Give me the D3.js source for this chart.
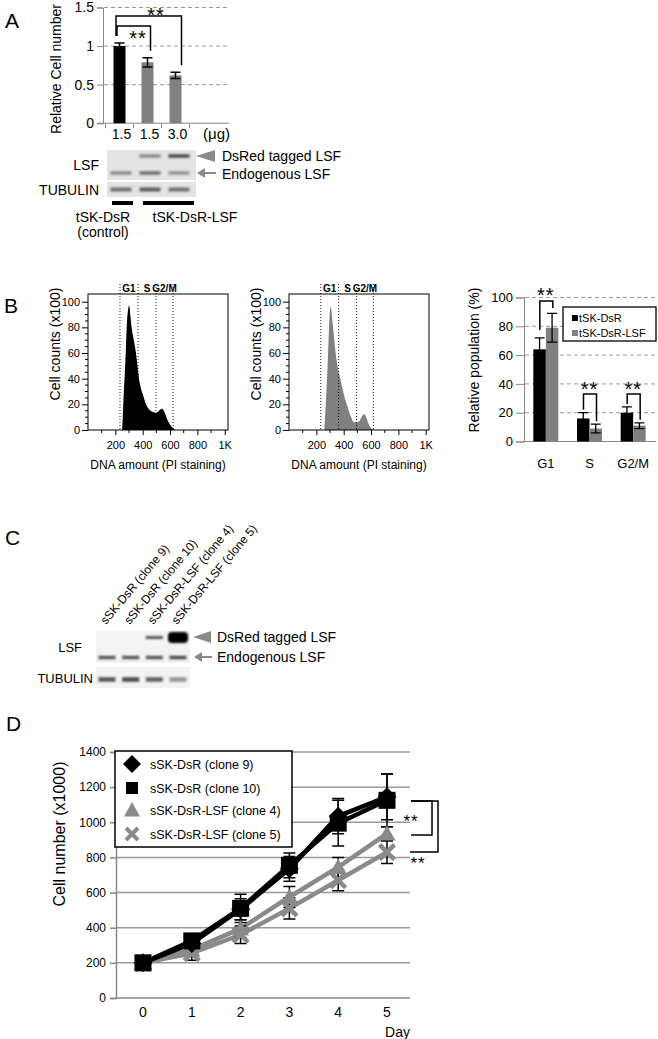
<!DOCTYPE html>
<html><head><meta charset="utf-8">
<script src="https://cdn.jsdelivr.net/npm/d3@7"></script>
<style>body{margin:0;background:#fff}svg{display:block}text{font-family:"Liberation Sans",Arial,Helvetica,sans-serif}</style>
</head><body><svg id="c" width="658" height="1039"></svg>
<script>
// ---------- DATA ----------
// Panel A
const aDoses = ["1.5", "1.5", "3.0"];
const aValues = [1.0, 0.79, 0.62];
const aErrors = [0.04, 0.06, 0.04];
const aTicks = [0, 0.5, 1, 1.5];
const aBlotDsRed = [0, 0.45, 0.8];
const aBlotEndo = [0.45, 0.6, 0.4];
const aBlotTub = [0.6, 0.7, 0.6];
// Panel B histograms: [DNA amount, cell counts x100]
const hist1 = [[250,0],[258,20],[276,60],[283,80],[292,93],[302,97],[310,89],[319,80],[335,70],[351,60],[362,50],[373,40],[386,33],[400,28],[412,24],[424,20],[440,17],[458,15],[475,14],[495,13.5],[510,14],[525,15.5],[541,16.5],[555,15],[570,11],[585,7],[600,4],[620,1.5],[640,0]];
const hist2 = [[258,0],[269,20],[286,60],[293,80],[305,96],[322,80],[341,60],[358,48],[375,40],[392,32],[408,25],[423,20],[440,14],[458,9],[475,6],[495,6],[515,7],[530,10],[545,12],[555,12],[568,9],[585,4],[600,1.5],[620,0]];
const gates1 = [234, 366, 497, 622];
const gates2 = [232, 363, 494, 617];
const histYTicks = [0, 20, 40, 60, 80, 100];
const histXTicks = [200, 400, 600, 800, 1000];
const histXLabels = ["200", "400", "600", "800", "1K"];
// Panel B bar chart
const phases = ["G1", "S", "G2/M"];
const dsrPop = [64, 16, 20];
const dsrPopErr = [8, 4, 4];
const lsfPop = [79, 9, 11];
const lsfPopErr = [10, 3, 2];
const popTicks = [0, 20, 40, 60, 80, 100];
// Panel C blot
const cLanes = ["sSK-DsR (clone 9)", "sSK-DsR (clone 10)", "sSK-DsR-LSF (clone 4)", "sSK-DsR-LSF (clone 5)"];
const cBlotDsRed = [0, 0, 0.75, 1.0];
const cBlotEndo = [0.75, 0.75, 0.75, 0.8];
const cBlotTub = [0.75, 0.8, 0.7, 0.45];
// Panel D
const days = [0, 1, 2, 3, 4, 5];
const clone9 = [200, 310, 505, 735, 1035, 1145];
const clone9Err = [10, 20, 60, 70, 100, 130];
const clone10 = [200, 325, 510, 755, 995, 1125];
const clone10Err = [10, 25, 80, 70, 130, 150];
const clone4 = [200, 275, 395, 575, 745, 935];
const clone4Err = [10, 30, 50, 60, 55, 40];
const clone5 = [200, 255, 360, 510, 670, 830];
const clone5Err = [10, 40, 50, 60, 60, 65];
const dTicks = [0, 200, 400, 600, 800, 1000, 1200, 1400];

// ---------- DRAW ----------
const svg = d3.select("#c");
const GRAY = "#8a8a8a";
const defs = svg.append("defs");
defs.append("filter").attr("id","blur").attr("x","-30%").attr("y","-100%").attr("width","160%").attr("height","300%")
  .append("feGaussianBlur").attr("stdDeviation","1.1");

function txt(g, s, x, y, size, anchor, extra) {
  const t = g.append("text").attr("x", x).attr("y", y).attr("font-size", size)
    .attr("text-anchor", anchor || "start").text(s);
  if (extra) extra(t);
  return t;
}
function stars(g, x, y, size) {
  return txt(g, "**", x, y, size, "middle", t => t.attr("letter-spacing", 1));
}
function styleAxis(g, lineColor) {
  g.select(".domain").attr("stroke", lineColor);
  g.selectAll(".tick line").attr("stroke", lineColor);
  g.selectAll(".tick text").attr("fill", "#000").attr("font-family", '"Liberation Sans",Arial,sans-serif');
}

// ===== Panel A =====
txt(svg, "A", 5, 28, 21);
const gA = svg.append("g");
const xA = d3.scalePoint().domain(d3.range(aValues.length)).range([119.5, 175.5]);
const yA = d3.scaleLinear().domain([0, 1.5]).range([123.2, 7.5]);
gA.selectAll(".gridA").data(aTicks.filter(d => d > 0)).join("line")
  .attr("x1", 104).attr("x2", 229).attr("y1", d => yA(d)).attr("y2", d => yA(d))
  .attr("stroke", "#999").attr("stroke-dasharray", "4,3");
const axA = gA.append("g").attr("transform", "translate(103,0)")
  .call(d3.axisLeft(yA).tickValues(aTicks).tickFormat(d3.format("")).tickSize(6).tickPadding(3));
axA.attr("font-size", 14); styleAxis(axA, "#888");
gA.append("line").attr("x1", 97).attr("x2", 229).attr("y1", yA(0)).attr("y2", yA(0)).attr("stroke", "#888");
gA.selectAll(".tA").data([105.5, 133.5, 161.5, 189.5]).join("line")
  .attr("x1", d => d).attr("x2", d => d).attr("y1", yA(0)).attr("y2", yA(0) + 5).attr("stroke", "#888");
gA.selectAll(".barA").data(aValues).join("rect")
  .attr("x", (d, i) => xA(i) - 6).attr("width", 12)
  .attr("y", d => yA(d)).attr("height", d => yA(0) - yA(d))
  .attr("fill", (d, i) => i === 0 ? "#000" : "#808080");
aValues.forEach((v, i) => {
  const x = xA(i), e = aErrors[i];
  gA.append("path").attr("d", `M${x},${yA(v + e)}V${yA(v - e)}M${x - 5},${yA(v + e)}H${x + 5}M${x - 5},${yA(v - e)}H${x + 5}`)
    .attr("stroke", "#000").attr("stroke-width", 1.5).attr("fill", "none");
});
aDoses.forEach((d, i) => txt(gA, d, xA(i) + 2, 139, 14, "middle"));
txt(gA, "(μg)", 203, 139, 15);
txt(gA, "Relative Cell number", 0, 0, 14, "middle", t => t.attr("transform", "translate(61,69) rotate(-90)"));
// significance A
gA.append("path").attr("d", `M117,36V26H${xA(1) + 3}V${yA(aValues[1] + aErrors[1]) - 7}`)
  .attr("stroke", "#000").attr("stroke-width", 1.5).attr("fill", "none");
gA.append("path").attr("d", `M116,36V16H${xA(2) + 6}V${yA(aValues[2] + aErrors[2]) - 7}`)
  .attr("stroke", "#000").attr("stroke-width", 1.5).attr("fill", "none");
stars(gA, 138, 45, 20);
stars(gA, 156, 22, 20);
// blot A
const blotA = svg.append("g");
const laneA = d3.scalePoint().domain(d3.range(3)).range([121, 179]);
blotA.append("rect").attr("x", 107).attr("y", 150).attr("width", 89).attr("height", 30).attr("fill", "#e4e4e4");
blotA.append("rect").attr("x", 107).attr("y", 182).attr("width", 89).attr("height", 15).attr("fill", "#e4e4e4");
function bands(g, lanes, vals, y, w, h) {
  g.selectAll(null).data(vals).join("rect")
    .attr("x", (d, i) => lanes(i) - w / 2).attr("y", y - h / 2).attr("width", w).attr("height", h)
    .attr("fill", "#222").attr("opacity", d => d).attr("filter", "url(#blur)");
}
bands(blotA, laneA, aBlotDsRed, 156, 21, 3.5);
bands(blotA, laneA, aBlotEndo, 173, 21, 3.5);
bands(blotA, laneA, aBlotTub, 189.5, 21, 4);
txt(blotA, "LSF", 99, 170, 14, "end");
txt(blotA, "TUBULIN", 99, 195, 14, "end");
blotA.append("path").attr("d", "M196,156L215,150L215,162Z").attr("fill", GRAY);
blotA.append("path").attr("d", "M197,173L205,168L205,178Z").attr("fill", GRAY);
blotA.append("line").attr("x1", 204).attr("x2", 216).attr("y1", 173).attr("y2", 173).attr("stroke", GRAY).attr("stroke-width", 2);
txt(blotA, "DsRed tagged LSF", 222, 161, 14);
txt(blotA, "Endogenous LSF", 222, 179, 14);
blotA.append("line").attr("x1", 112).attr("x2", 133).attr("y1", 203).attr("y2", 203).attr("stroke", "#000").attr("stroke-width", 4);
blotA.append("line").attr("x1", 143).attr("x2", 194).attr("y1", 203).attr("y2", 203).attr("stroke", "#000").attr("stroke-width", 4);
txt(blotA, "tSK-DsR", 103, 222, 14, "middle");
txt(blotA, "(control)", 103, 237, 14, "middle");
txt(blotA, "tSK-DsR-LSF", 195, 222, 14, "middle");

// ===== Panel B histograms =====
txt(svg, "B", 4, 313, 21);
const yH = d3.scaleLinear().domain([0, 106]).range([430, 294]);
function histogram(x0, data, gates, fill) {
  const g = svg.append("g");
  const xH = d3.scaleLinear().domain([0, 1024]).range([x0, x0 + 140]);
  g.append("path").datum(data)
    .attr("d", d3.area().x(d => xH(d[0])).y0(yH(0)).y1(d => yH(d[1])).curve(d3.curveMonotoneX))
    .attr("fill", fill);
  g.append("rect").attr("x", xH(0)).attr("y", yH(106)).attr("width", 140).attr("height", yH(0) - yH(106))
    .attr("fill", "none").attr("stroke", "#000").attr("stroke-width", 1);
  gates.forEach(v => g.append("line").attr("x1", xH(v)).attr("x2", xH(v)).attr("y1", 284).attr("y2", yH(0))
    .attr("stroke", "#000").attr("stroke-width", 0.9).attr("stroke-dasharray", "1,2"));
  phases.forEach((p, i) => txt(g, p, (xH(gates[i]) + xH(gates[i + 1])) / 2, 292, 10, "middle", t => t.attr("font-weight", "bold")));
  const ay = g.append("g").attr("transform", `translate(${xH(0)},0)`)
    .call(d3.axisLeft(yH).tickValues(histYTicks).tickSize(6).tickPadding(2));
  ay.attr("font-size", 11); styleAxis(ay, "#000"); ay.select(".domain").remove();
  g.selectAll(null).data(d3.range(5, 105, 5).filter(v => v % 20)).join("line")
    .attr("x1", xH(0) - 3).attr("x2", xH(0)).attr("y1", d => yH(d)).attr("y2", d => yH(d)).attr("stroke", "#000");
  const ax = g.append("g").attr("transform", `translate(0,${yH(0)})`)
    .call(d3.axisBottom(xH).tickValues(histXTicks).tickFormat((d, i) => histXLabels[i]).tickSize(5).tickPadding(6));
  ax.attr("font-size", 11); styleAxis(ax, "#000"); ax.select(".domain").remove();
  g.selectAll(null).data(d3.range(100, 1000, 200)).join("line")
    .attr("x1", d => xH(d)).attr("x2", d => xH(d)).attr("y1", yH(0)).attr("y2", yH(0) + 3).attr("stroke", "#000");
  txt(g, "DNA amount (PI staining)", x0 + 70, 469, 12, "middle");
  txt(g, "Cell counts (x100)", 0, 0, 14, "middle", t => t.attr("transform", `translate(${x0 - 28},${344}) rotate(-90)`));
}
histogram(88, hist1, gates1, "#000");
histogram(289, hist2, gates2, "#808080");

// ===== Panel B bar chart =====
const gB = svg.append("g");
const xB = d3.scaleBand().domain(phases).range([524, 655]);
const yB = d3.scaleLinear().domain([0, 100]).range([441.5, 297.5]);
gB.selectAll(null).data(popTicks.filter(d => d > 0)).join("line")
  .attr("x1", 525).attr("x2", 656).attr("y1", d => yB(d)).attr("y2", d => yB(d))
  .attr("stroke", "#999").attr("stroke-dasharray", "4,3");
const axB = gB.append("g").attr("transform", "translate(524,0)")
  .call(d3.axisLeft(yB).tickValues(popTicks).tickSize(8).tickPadding(3));
axB.attr("font-size", 13); styleAxis(axB, "#888");
gB.append("line").attr("x1", 524).attr("x2", 656).attr("y1", yB(0)).attr("y2", yB(0)).attr("stroke", "#888");
const bw = 12.5;
function popBars(vals, errs, dx, fill) {
  vals.forEach((v, i) => {
    const x = xB(phases[i]) + xB.bandwidth() / 2 + dx;
    gB.append("rect").attr("x", x).attr("width", bw).attr("y", yB(v)).attr("height", yB(0) - yB(v)).attr("fill", fill);
    const cx = x + bw / 2, e = errs[i];
    gB.append("path").attr("d", `M${cx},${yB(v + e)}V${yB(v - e)}M${cx - 5},${yB(v + e)}H${cx + 5}M${cx - 5},${yB(v - e)}H${cx + 5}`)
      .attr("stroke", "#000").attr("stroke-width", 1.3).attr("fill", "none");
  });
}
popBars(dsrPop, dsrPopErr, -bw, "#000");
popBars(lsfPop, lsfPopErr, 0, "#808080");
phases.forEach((p, i) => {
  const c = xB(p) + xB.bandwidth() / 2;
  txt(gB, p, c, 468, 13, "middle");
  const yt = i === 0 ? 301 : 394;
  const yl = i === 0 ? 330 : yB(dsrPop[i] + dsrPopErr[i]) - 3;
  const yr = i === 0 ? 308 : yB(lsfPop[i] + lsfPopErr[i]) - 3;
  gB.append("path").attr("d", `M${c - 6},${yl}V${yt}H${c + 7}V${yr}`).attr("stroke", "#000").attr("stroke-width", 1.5).attr("fill", "none");
  stars(gB, c, i === 0 ? 302 : 396, 20);
});
txt(gB, "Relative population (%)", 0, 0, 14, "middle", t => t.attr("transform", "translate(479,360) rotate(-90)"));
gB.append("rect").attr("x", 563).attr("y", 307).attr("width", 93).attr("height", 34).attr("fill", "#fff").attr("stroke", "#000").attr("stroke-width", 1.3);
[["tSK-DsR", "#000"], ["tSK-DsR-LSF", "#808080"]].forEach((d, i) => {
  gB.append("rect").attr("x", 572).attr("y", 315 + i * 15).attr("width", 6).attr("height", 6).attr("fill", d[1]);
  txt(gB, d[0], 579, 322 + i * 15, 11);
});

// ===== Panel C =====
txt(svg, "C", 5, 545, 21);
const gC = svg.append("g");
const laneC = d3.scalePoint().domain(d3.range(cLanes.length)).range([107, 178]);
gC.append("rect").attr("x", 96).attr("y", 631).attr("width", 94).attr("height", 32).attr("fill", "#f3f3f3");
gC.append("rect").attr("x", 96).attr("y", 667).attr("width", 94).attr("height", 21).attr("fill", "#f3f3f3");
bands(gC, laneC, cBlotDsRed.map((d, i) => i === 3 ? 0 : d), 637.5, 17, 3);
gC.append("rect").attr("x", laneC(3) - 10).attr("y", 632).attr("width", 20).attr("height", 11).attr("rx", 4)
  .attr("fill", "#000").attr("opacity", cBlotDsRed[3]).attr("filter", "url(#blur)");
bands(gC, laneC, cBlotEndo, 657.5, 17, 3.5);
bands(gC, laneC, cBlotTub, 679.5, 17, 4.5);
cLanes.forEach((s, i) => txt(gC, s, 0, 0, 12, "start", t => t.attr("transform", `translate(${laneC(i) - 1},625) rotate(-50)`)));
txt(gC, "LSF", 82, 652, 13, "end");
txt(gC, "TUBULIN", 93, 683, 13, "end");
gC.append("path").attr("d", "M193,637L211,631L211,643Z").attr("fill", GRAY);
gC.append("path").attr("d", "M194,657L202,652L202,662Z").attr("fill", GRAY);
gC.append("line").attr("x1", 201).attr("x2", 212).attr("y1", 657).attr("y2", 657).attr("stroke", GRAY).attr("stroke-width", 2);
txt(gC, "DsRed tagged LSF", 217, 642, 14);
txt(gC, "Endogenous LSF", 217, 662, 14);

// ===== Panel D =====
txt(svg, "D", 6, 731, 21);
const gD = svg.append("g");
const xD = d3.scalePoint().domain(days).range([143, 387]);
const yD = d3.scaleLinear().domain([0, 1400]).range([998, 752]);
gD.selectAll(null).data(dTicks.filter(d => d > 0)).join("line")
  .attr("x1", 116).attr("x2", 410).attr("y1", d => yD(d)).attr("y2", d => yD(d)).attr("stroke", "#999").attr("stroke-width", 1.5);
const axD = gD.append("g").attr("transform", "translate(116,0)")
  .call(d3.axisLeft(yD).tickValues(dTicks).tickFormat(d3.format("d")).tickSize(6).tickPadding(4));
axD.attr("font-size", 12); styleAxis(axD, "#888"); axD.selectAll(".domain,.tick line").attr("stroke-width", 1.5);
gD.append("line").attr("x1", 116).attr("x2", 410).attr("y1", yD(0)).attr("y2", yD(0)).attr("stroke", "#888").attr("stroke-width", 1.5);
days.forEach(d => txt(gD, String(d), xD(d), 1017, 14, "middle"));
txt(gD, "Day", 410, 1037, 14, "end");
txt(gD, "Cell number (x1000)", 0, 0, 16, "middle", t => t.attr("transform", "translate(65,834) rotate(-90)"));

const diamond = r => `M0,${-r}L${r},0L0,${r}L${-r},0Z`;
const square = r => `M${-r},${-r}H${r}V${r}H${-r}Z`;
const tri = r => `M0,${-r}L${r},${r * 0.8}L${-r},${r * 0.8}Z`;
const cross = r => `M${-r},${-r}L${r},${r}M${r},${-r}L${-r},${r}`;
const series = [
  { v: clone4, e: clone4Err, c: GRAY, m: tri, r: 8.5, name: "sSK-DsR-LSF (clone 4)", lr: 8 },
  { v: clone5, e: clone5Err, c: GRAY, m: cross, r: 7.5, name: "sSK-DsR-LSF (clone 5)", lr: 6, x: true },
  { v: clone9, e: clone9Err, c: "#000", m: diamond, r: 9.5, name: "sSK-DsR (clone 9)", lr: 9 },
  { v: clone10, e: clone10Err, c: "#000", m: square, r: 8.5, name: "sSK-DsR (clone 10)", lr: 6 }
];
const line = d3.line().x((d, i) => xD(days[i])).y(d => yD(d));
series.forEach(s => {
  gD.append("path").datum(s.v).attr("d", line).attr("fill", "none").attr("stroke", s.c).attr("stroke-width", 4.5).attr("stroke-linejoin", "round");
});
series.forEach(s => {
  s.v.forEach((v, i) => {
    const x = xD(days[i]);
    gD.append("path").attr("d", `M${x},${yD(v + s.e[i])}V${yD(v - s.e[i])}M${x - 6},${yD(v + s.e[i])}H${x + 6}M${x - 6},${yD(v - s.e[i])}H${x + 6}`)
      .attr("stroke", "#000").attr("stroke-width", 1.5).attr("fill", "none");
  });
});
series.forEach(s => {
  gD.selectAll(null).data(s.v).join("path")
    .attr("transform", (d, i) => `translate(${xD(days[i])},${yD(d)})`)
    .attr("d", s.m(s.r))
    .attr("fill", s.x ? "none" : s.c).attr("stroke", s.c).attr("stroke-width", s.x ? 4.5 : 0);
});
// significance D
gD.append("path").attr("d", "M411,801H432V835H411").attr("stroke", "#000").attr("stroke-width", 1.5).attr("fill", "none");
gD.append("path").attr("d", "M411,801H438V852H410").attr("stroke", "#000").attr("stroke-width", 1.5).attr("fill", "none");
stars(gD, 411, 827, 17);
stars(gD, 418, 869, 17);
// legend D
gD.append("rect").attr("x", 115).attr("y", 751).attr("width", 177).attr("height", 96).attr("fill", "#fff").attr("stroke", "#000").attr("stroke-width", 1.5);
const legOrder = [series[2], series[3], series[0], series[1]];
legOrder.forEach((s, i) => {
  const y = [764, 788, 810, 834][i];
  gD.append("path").attr("transform", `translate(132,${y})`).attr("d", s.m(s.lr))
    .attr("fill", s.x ? "none" : s.c).attr("stroke", s.c).attr("stroke-width", s.x ? 4 : 0);
  txt(gD, s.name, 150, y + 4.5, 12.5);
});
</script></body></html>
